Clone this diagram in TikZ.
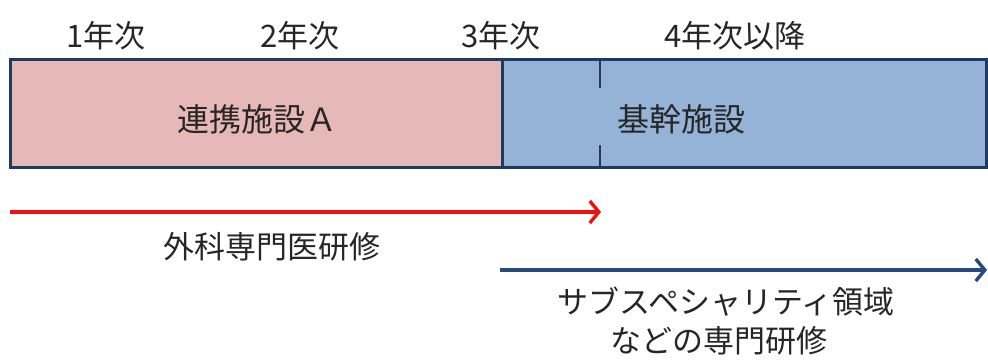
\documentclass[tikz,border=0pt]{standalone}
\usepackage{fontspec}
\newfontfamily\jp{Noto Sans CJK JP}
\usetikzlibrary{arrows.meta}
\definecolor{navy}{HTML}{1F3A60}
\definecolor{pinkfill}{HTML}{E6B9B8}
\definecolor{bluefill}{HTML}{95B3D7}
\definecolor{redarrow}{HTML}{EE1111}
\definecolor{bluearrow}{HTML}{254A7E}
\definecolor{txt}{HTML}{262626}
\tikzset{
  lbl/.style={font=\jp\fontsize{31}{36}\selectfont, text=txt, inner sep=0pt, anchor=center},
  seg/.style={draw=navy, line width=3pt, inner sep=0pt, minimum height=108pt},
  arr/.style={line width=4.4pt, -{Straight Barb[length=9pt,width=22pt,line width=3.4pt]}}
}
\begin{document}
\begin{tikzpicture}[x=1pt,y=-1pt]
\useasboundingbox (0,0) rectangle (988,360);
% boxes
\node[seg, fill=pinkfill, minimum width=492pt] (pinkbox) at (256,113) {};
\node[seg, fill=bluefill, minimum width=484pt] (bluebox) at (744,113) {};
\coordinate (tickA) at (600,59);
\coordinate (tickB) at (600,88);
\coordinate (tickC) at (600,145);
\coordinate (tickD) at (600,167);
\draw[navy, line width=2.6pt] (tickA) -- (tickB);
\draw[navy, line width=2.6pt] (tickC) -- (tickD);
% year labels
\node[lbl] (y1) at (106,36) {1年次};
\node[lbl] (y2) at (300,36) {2年次};
\node[lbl] (y3) at (501,36) {3年次};
\node[lbl] (y4) at (735,36) {4年次以降};
% box labels
\node[lbl, font=\jp\fontsize{32}{36}\selectfont] (tA) at (257,119) {連携施設Ａ};
\node[lbl, font=\jp\fontsize{32}{36}\selectfont] (tB) at (681,119) {基幹施設};
% arrows
\coordinate (r0) at (10,212);
\coordinate (r1) at (601,212);
\draw[arr, redarrow] (r0) -- (r1);
\node[lbl] (surg) at (272,247) {外科専門医研修};
\coordinate (b0) at (500,270);
\coordinate (b1) at (987,270);
\draw[arr, bluearrow] (b0) -- (b1);
\node[lbl] (sub1) at (726,302) {サブスペシャリティ領域};
\node[lbl] (sub2) at (719,341) {などの専門研修};
\end{tikzpicture}
\end{document}
